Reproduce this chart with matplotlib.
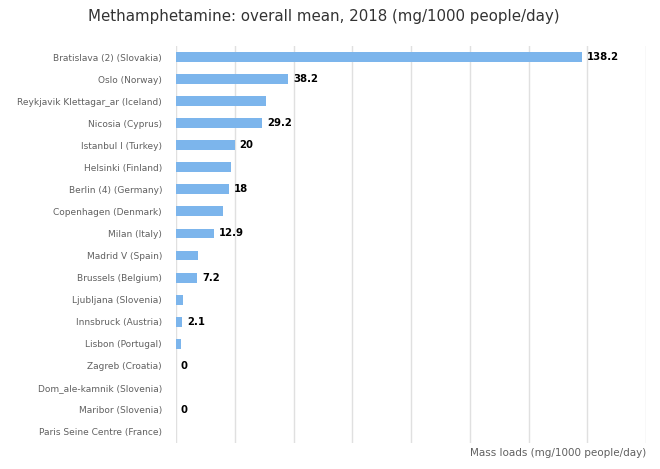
import numpy as np
import matplotlib.pyplot as plt

cities = ['Bratislava (2) (Slovakia)', 'Oslo (Norway)', 'Reykjavik Klettagar_ar (Iceland)',
          'Nicosia (Cyprus)', 'Istanbul I (Turkey)', 'Helsinki (Finland)',
          'Berlin (4) (Germany)', 'Copenhagen (Denmark)', 'Milan (Italy)',
          'Madrid V (Spain)', 'Brussels (Belgium)', 'Ljubljana (Slovenia)',
          'Innsbruck (Austria)', 'Lisbon (Portugal)', 'Zagreb (Croatia)',
          'Dom_ale-kamnik (Slovenia)', 'Maribor (Slovenia)', 'Paris Seine Centre (France)']
values = [138.2, 38.2, 30.8, 29.2, 20, 18.8, 18, 16.1, 12.9,
          7.6, 7.2, 2.3, 2.1, 1.7, 0, np.nan, 0, np.nan]
# Highcharts hid the overlapping data labels; these are the ones shown
shown = [True, True, False, True, True, False, True, False, True,
         False, True, False, True, False, True, False, True, False]

fig = plt.figure(figsize=(6.6, 4.69), dpi=100)
ax = fig.add_axes([176 / 660, 1 - 443 / 469, (646 - 176) / 660, (443 - 46) / 469])

y = np.arange(len(cities))
vals = np.nan_to_num(np.array(values, dtype=float))
ax.barh(y, vals, height=0.45, color='#7cb5ec', zorder=2)

for yi, v, s in zip(y, values, shown):
    if s and not np.isnan(v):
        ax.text(v + 1.7, yi, f'{v:g}', va='center', ha='left', fontsize=7.3,
                fontweight='bold', color='black')

ax.set_xlim(0, 160)
ax.set_ylim(len(cities) - 0.5, -0.5)
ax.set_xticks(np.arange(0, 161, 20))
ax.set_xticklabels([])
ax.set_yticks(y)
ax.set_yticklabels(cities, fontsize=6.5, color='#606060')
ax.tick_params(length=0, pad=10)
ax.grid(axis='x', color='#e0e0e0', linewidth=1, zorder=0)
for sp in ax.spines.values():
    sp.set_visible(False)

fig.text(646 / 660, 1 - 453 / 469, 'Mass loads (mg/1000 people/day)', ha='right',
         va='center', fontsize=7.5, color='#606060')
fig.suptitle('Methamphetamine: overall mean, 2018 (mg/1000 people/day)',
             x=0.5 - 6 / 660, y=1 - 17 / 469, va='center', fontsize=10.8, color='#333333')

fig.savefig('out.png', dpi=100)
